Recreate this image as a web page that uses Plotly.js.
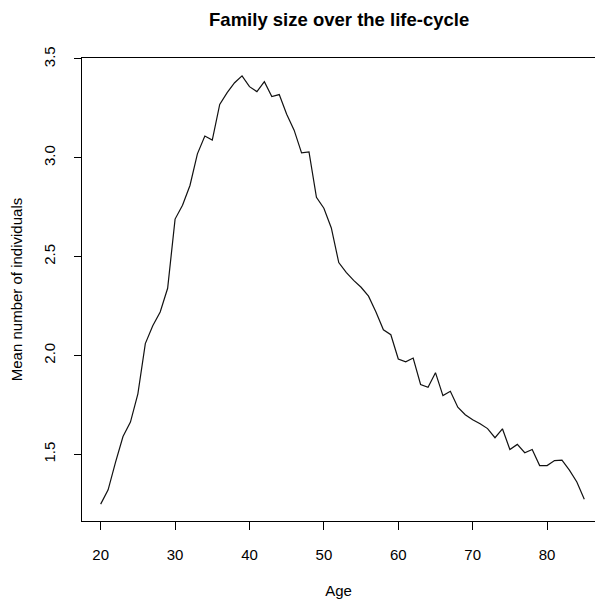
<!DOCTYPE html>
<html>
<head>
<meta charset="utf-8">
<script src="https://cdn.plot.ly/plotly-3.0.1.min.js"></script>
<style>html,body{margin:0;padding:0;background:#fff;}#chart{width:595px;height:601px;}</style>
</head>
<body>
<div id="chart"></div>
<script>
const ages = [20,21,22,23,24,25,26,27,28,29,30,31,32,33,34,35,36,37,38,39,40,41,42,43,44,45,46,47,48,49,50,51,52,53,54,55,56,57,58,59,60,61,62,63,64,65,66,67,68,69,70,71,72,73,74,75,76,77,78,79,80,81,82,83,84,85];
const meanIndividuals = [1.248,1.32,1.46,1.59,1.663,1.806,2.06,2.15,2.22,2.34,2.69,2.76,2.86,3.02,3.11,3.09,3.27,3.33,3.38,3.415,3.36,3.335,3.385,3.31,3.32,3.22,3.14,3.025,3.03,2.80,2.745,2.645,2.47,2.42,2.38,2.345,2.30,2.22,2.13,2.105,1.982,1.968,1.987,1.853,1.839,1.913,1.797,1.819,1.738,1.70,1.675,1.655,1.63,1.584,1.629,1.524,1.55,1.508,1.524,1.443,1.443,1.468,1.47,1.42,1.36,1.273];
const xTicks = [20,30,40,50,60,70,80];
const yTicks = [1.5,2.0,2.5,3.0,3.5];
const yTickLabels = ["1.5","2.0","2.5","3.0","3.5"];

const font = "Liberation Sans, Arial, sans-serif";
Plotly.newPlot('chart', [{
  x: ages, y: meanIndividuals, type: 'scatter', mode: 'lines',
  line: {color: '#111', width: 1.2}, hoverinfo: 'skip'
}], {
  width: 595, height: 601,
  margin: {l: 82, r: 0, t: 58, b: 80, pad: 0},
  paper_bgcolor: '#fff', plot_bgcolor: '#fff',
  showlegend: false,
  title: {text: '<b>Family size over the life-cycle</b>', x: 0.57, xanchor: 'center', y: 0.967, yanchor: 'middle',
          font: {family: font, size: 18.5, color: '#000'}},
  xaxis: {
    range: [17.49, 86.44], tickvals: xTicks, ticktext: xTicks.map(String),
    showgrid: false, zeroline: false,
    showline: true, linecolor: '#000', linewidth: 1, mirror: true,
    ticks: 'outside', ticklen: 8, tickcolor: '#000', tickwidth: 1,
    ticklabelstandoff: 12,
    tickfont: {family: font, size: 15, color: '#000'},
    title: {text: 'Age', font: {family: font, size: 15, color: '#000'}, standoff: 23}
  },
  yaxis: {
    range: [1.1625, 3.505], tickvals: yTicks, ticktext: yTickLabels,
    showgrid: false, zeroline: false,
    showline: true, linecolor: '#000', linewidth: 1, mirror: false,
    ticks: 'outside', ticklen: 7, tickcolor: '#000', tickwidth: 1,
    tickangle: -90, ticklabelstandoff: 13,
    tickfont: {family: font, size: 15, color: '#000'},
    title: {text: 'Mean number of individuals', font: {family: font, size: 15, color: '#000'}, standoff: 14}
  }
}, {staticPlot: true});
</script>
</body>
</html>
